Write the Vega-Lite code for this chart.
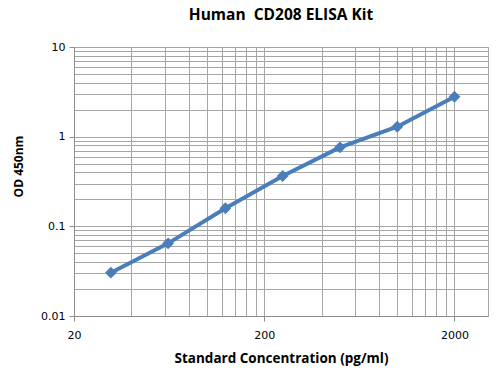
{
  "$schema": "https://vega.github.io/schema/vega-lite/v6.json",
  "autosize": "none",
  "width": 414,
  "height": 269,
  "padding": {"left": 74, "top": 47, "right": 16, "bottom": 56},
  "background": "white",
  "title": {
    "text": "Human\u00a0 CD208 ELISA Kit",
    "font": "Open Sans",
    "fontSize": 15.5,
    "fontWeight": "bold",
    "color": "black",
    "anchor": "middle",
    "offset": 18
  },
  "config": {
    "view": {"stroke": "#a6a6a6", "strokeWidth": 1},
    "axis": {
      "gridColor": "#a6a6a6",
      "gridOpacity": 1,
      "gridWidth": 1,
      "domainColor": "#8c8c8c",
      "tickColor": "#8c8c8c",
      "labelFont": "DejaVu Sans",
      "labelFontSize": 11,
      "labelColor": "black",
      "titleFont": "Open Sans",
      "titleFontSize": 13,
      "titleFontWeight": "bold",
      "titleColor": "black",
      "labelFlush": false
    }
  },
  "data": {
    "values": [
      {"conc": 31.25, "od": 0.0304},
      {"conc": 62.5, "od": 0.0646},
      {"conc": 125, "od": 0.159},
      {"conc": 250, "od": 0.364},
      {"conc": 500, "od": 0.76},
      {"conc": 1000, "od": 1.29},
      {"conc": 2000, "od": 2.79}
    ]
  },
  "encoding": {
    "x": {
      "field": "conc",
      "type": "quantitative",
      "scale": {"type": "log", "domain": [20, 3000], "nice": false},
      "axis": {
        "title": "Standard Concentration (pg/ml)",
        "titlePadding": 11,
        "titleFontSize": 13.5,
        "values": [20, 40, 60, 80, 100, 120, 140, 160, 180, 200, 400, 600, 800, 1000, 1200, 1400, 1600, 1800, 2000],
        "format": "~g",
        "labelExpr": "(datum.value == 20 || datum.value == 200 || datum.value == 2000) ? datum.label : ''",
        "tickOpacity": {"condition": {"test": "datum.value == 20 || datum.value == 200 || datum.value == 2000", "value": 1}, "value": 0},
        "tickSize": 5,
        "labelPadding": 8
      }
    },
    "y": {
      "field": "od",
      "type": "quantitative",
      "scale": {"type": "log", "domain": [0.01, 10], "nice": false},
      "axis": {
        "title": "OD 450nm",
        "titlePadding": 15,
        "titleFontSize": 12,
        "titleY": 119,
        "values": [0.01, 0.02, 0.03, 0.04, 0.05, 0.06, 0.07, 0.08, 0.09, 0.1, 0.2, 0.3, 0.4, 0.5, 0.6, 0.7, 0.8, 0.9, 1, 2, 3, 4, 5, 6, 7, 8, 9, 10],
        "format": "~g",
        "labelExpr": "(datum.value == 0.01 || datum.value == 0.1 || datum.value == 1 || datum.value == 10) ? datum.label : ''",
        "tickOpacity": {"condition": {"test": "datum.value == 0.01 || datum.value == 0.1 || datum.value == 1 || datum.value == 10", "value": 1}, "value": 0},
        "tickSize": 5,
        "labelPadding": 4
      }
    }
  },
  "layer": [
    {"mark": {"type": "line", "color": "#4a7ebb", "strokeWidth": 4}},
    {"mark": {"type": "point", "shape": "diamond", "filled": true, "color": "#4a7ebb", "opacity": 1, "size": 140}}
  ]
}
